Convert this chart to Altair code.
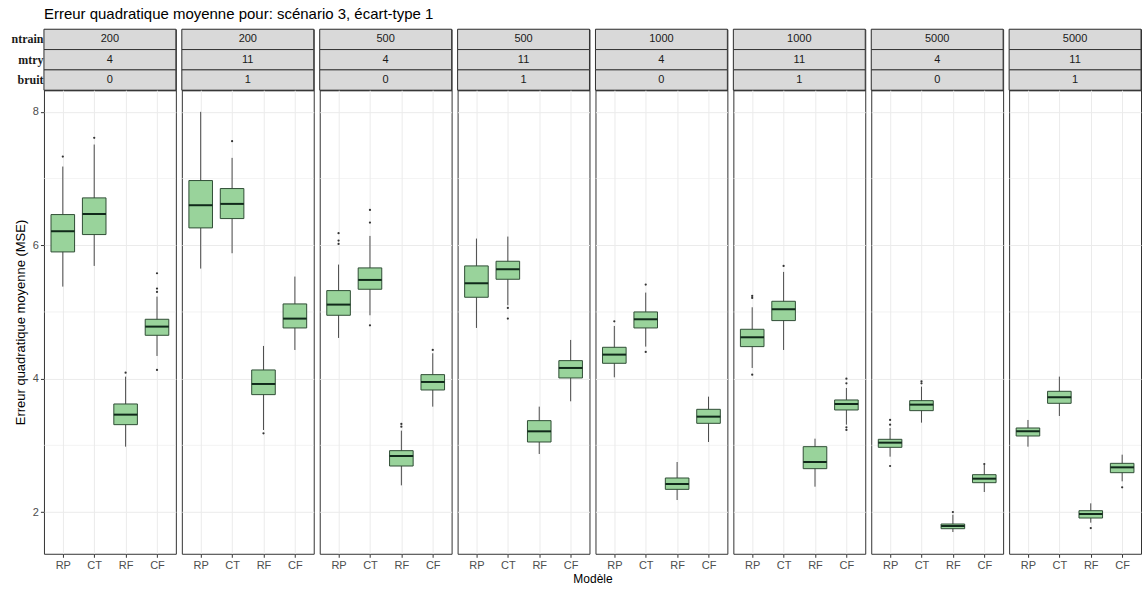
import altair as alt
import pandas as pd

# Models on the x axis of every panel
MODELS = ["RP", "CT", "RF", "CF"]

# Panel settings shown in the strips
NTRAIN = ["200", "200", "500", "500", "1000", "1000", "5000", "5000"]
MTRY = ["4", "11", "4", "11", "4", "11", "4", "11"]
BRUIT = ["0", "1", "0", "1", "0", "1", "0", "1"]

# Box statistics per panel, in MODELS order
LO = [
    [5.38, 5.69, 2.98, 4.34],
    [5.65, 5.88, 3.23, 4.43],
    [4.61, 4.95, 2.40, 3.58],
    [4.76, 5.10, 2.87, 3.66],
    [4.02, 4.48, 2.18, 3.05],
    [4.16, 4.43, 2.38, 3.31],
    [2.83, 3.34, 1.70, 2.30],
    [2.98, 3.44, 1.84, 2.46],
]
Q1 = [
    [5.90, 6.16, 3.31, 4.65],
    [6.26, 6.40, 3.76, 4.76],
    [4.95, 5.34, 2.69, 3.83],
    [5.22, 5.49, 3.05, 4.01],
    [4.23, 4.76, 2.34, 3.33],
    [4.48, 4.87, 2.65, 3.53],
    [2.97, 3.52, 1.75, 2.44],
    [3.14, 3.63, 1.91, 2.59],
]
MED = [
    [6.21, 6.47, 3.46, 4.78],
    [6.60, 6.62, 3.92, 4.90],
    [5.11, 5.48, 2.84, 3.95],
    [5.43, 5.64, 3.21, 4.16],
    [4.36, 4.89, 2.42, 3.43],
    [4.62, 5.04, 2.75, 3.62],
    [3.04, 3.61, 1.79, 2.50],
    [3.21, 3.72, 1.97, 2.67],
]
Q3 = [
    [6.46, 6.71, 3.62, 4.89],
    [6.97, 6.85, 4.13, 5.12],
    [5.32, 5.66, 2.92, 4.06],
    [5.69, 5.76, 3.37, 4.27],
    [4.47, 5.00, 2.51, 3.54],
    [4.74, 5.16, 2.98, 3.68],
    [3.09, 3.67, 1.82, 2.56],
    [3.26, 3.81, 2.02, 2.73],
]
HI = [
    [7.18, 7.51, 4.03, 5.23],
    [8.00, 7.31, 4.49, 5.53],
    [5.71, 6.14, 3.22, 4.38],
    [6.10, 6.13, 3.58, 4.58],
    [4.79, 5.29, 2.75, 3.73],
    [5.07, 5.60, 3.10, 3.86],
    [3.26, 3.88, 1.96, 2.71],
    [3.38, 4.03, 2.13, 2.86],
]

# Outlying values per panel and model
OUTLIERS = [
    {"RP": [7.33], "CT": [7.61], "RF": [4.09], "CF": [5.58, 5.35, 5.30, 4.13]},
    {"RP": [], "CT": [7.56], "RF": [3.18], "CF": []},
    {"RP": [6.18, 6.07, 6.02], "CT": [6.53, 6.34, 4.80], "RF": [3.32, 3.28], "CF": [4.43]},
    {"RP": [], "CT": [5.06, 4.90], "RF": [], "CF": []},
    {"RP": [4.86], "CT": [5.41, 4.40], "RF": [], "CF": []},
    {"RP": [5.24, 5.21, 4.06], "CT": [5.69], "RF": [], "CF": [4.00, 3.93, 3.27, 3.23]},
    {"RP": [3.38, 3.31, 2.69], "CT": [3.96, 3.93], "RF": [2.00], "CF": [2.72]},
    {"RP": [], "CT": [], "RF": [1.76], "CF": [2.37]},
]

MAJOR = [2, 4, 6, 8]
MINOR = [3, 5, 7]
STRIP_VARS = ["ntrain", "mtry", "bruit"]

PANEL_W = 132
GAP = 6
STRIP_H = 61
PLOT_H = 464
BOX_W = 23.6

FILL = "#99d39b"
EDGE = "#2f4d35"
MEDIAN = "#10291a"
WHISKER = "#4a4a4a"
GRID = "#ebebeb"

y_scale = alt.Scale(domain=[1.374, 8.325], nice=False, zero=False)
x_scale = alt.Scale(type="point", domain=MODELS, padding=0.6)


def strip(i):
    df = pd.DataFrame({"var": STRIP_VARS, "val": [NTRAIN[i], MTRY[i], BRUIT[i]]})
    if i == 0:
        axis = alt.Axis(title=None, domain=False, ticks=False,
                        labelFont="Liberation Serif", labelFontWeight="bold",
                        labelFontSize=12, labelColor="#1a1a1a", labelPadding=1)
    else:
        axis = None
    y = alt.Y("var:N", sort=STRIP_VARS,
              scale=alt.Scale(domain=STRIP_VARS, paddingInner=0, paddingOuter=0),
              axis=axis)
    rect = alt.Chart(df).mark_rect(fill="#d9d9d9", stroke="#333333", strokeWidth=1).encode(
        y=y, x=alt.value(0), x2=alt.value(PANEL_W))
    txt = alt.Chart(df).mark_text(fontSize=11, color="#1a1a1a").encode(
        y=y, x=alt.value(PANEL_W / 2), text="val:N")
    return alt.layer(rect, txt).properties(width=PANEL_W, height=STRIP_H)


def panel(i):
    first = i == 0
    df = pd.DataFrame({
        "model": MODELS, "lo": LO[i], "q1": Q1[i], "med": MED[i],
        "q3": Q3[i], "hi": HI[i],
    })
    out_rows = [{"model": m, "value": v} for m in MODELS for v in OUTLIERS[i][m]]
    out_df = pd.DataFrame(out_rows, columns=["model", "value"])

    yaxis = alt.Axis(values=MAJOR, grid=True, gridColor=GRID, gridWidth=1, domain=False,
                     title="Erreur quadratique moyenne (MSE)" if first else None,
                     labels=first, ticks=first, tickColor="#333333", tickSize=3.5,
                     labelColor="#4d4d4d", labelFontSize=11, labelPadding=2,
                     titleFontSize=13, titleColor="#000000", titleFontWeight="normal",
                     titlePadding=5)
    # The shared x title sits under the gap between the 4th and 5th panels
    x_title = "Modèle" if i == 3 else None
    xaxis_kw = dict(title=x_title, labelAngle=0, domain=False, grid=True, gridColor=GRID,
                    tickColor="#333333", tickSize=3.5, labelColor="#4d4d4d",
                    labelFontSize=11, labelPadding=2)
    if x_title:
        xaxis_kw.update(titleX=PANEL_W + GAP / 2, titleFontSize=12, titleColor="#000000",
                        titleFontWeight="normal", titlePadding=3)
    xaxis = alt.Axis(**xaxis_kw)

    x = alt.X("model:N", scale=x_scale, axis=xaxis, sort=MODELS)

    minor = alt.Chart(pd.DataFrame({"v": MINOR})).mark_rule(
        color=GRID, strokeWidth=0.6).encode(
        y=alt.Y("v:Q", scale=y_scale, axis=yaxis))
    base = alt.Chart(df).encode(x=x)
    whisk = base.mark_rule(color=WHISKER, strokeWidth=1).encode(
        y=alt.Y("lo:Q", scale=y_scale, axis=yaxis), y2="hi:Q")
    box = base.mark_bar(size=BOX_W, fill=FILL, stroke=EDGE, strokeWidth=1).encode(
        y=alt.Y("q1:Q", scale=y_scale, axis=yaxis), y2="q3:Q")
    med = base.mark_tick(size=BOX_W, thickness=2, color=MEDIAN, opacity=1).encode(
        y=alt.Y("med:Q", scale=y_scale, axis=yaxis))
    pts = alt.Chart(out_df).mark_point(filled=True, size=5, color="#333333", opacity=1).encode(
        x=x, y=alt.Y("value:Q", scale=y_scale, axis=yaxis))
    return alt.layer(minor, whisk, box, med, pts).properties(width=PANEL_W, height=PLOT_H)


cells = [strip(i) for i in range(8)] + [panel(i) for i in range(8)]

chart = alt.concat(*cells, columns=8, spacing={"row": 0, "column": GAP}, bounds="flush").properties(
    title=alt.TitleParams("Erreur quadratique moyenne pour: scénario 3, écart-type 1",
                          anchor="start", frame="group", fontSize=15,
                          fontWeight="normal", color="#000000", offset=6),
    padding={"left": 10, "top": 7, "right": 2, "bottom": 4},
).configure(font="Liberation Sans").configure_view(
    stroke="#333333", strokeWidth=1
)

chart.save("out.html", embed_options={"renderer": "svg", "actions": False})
